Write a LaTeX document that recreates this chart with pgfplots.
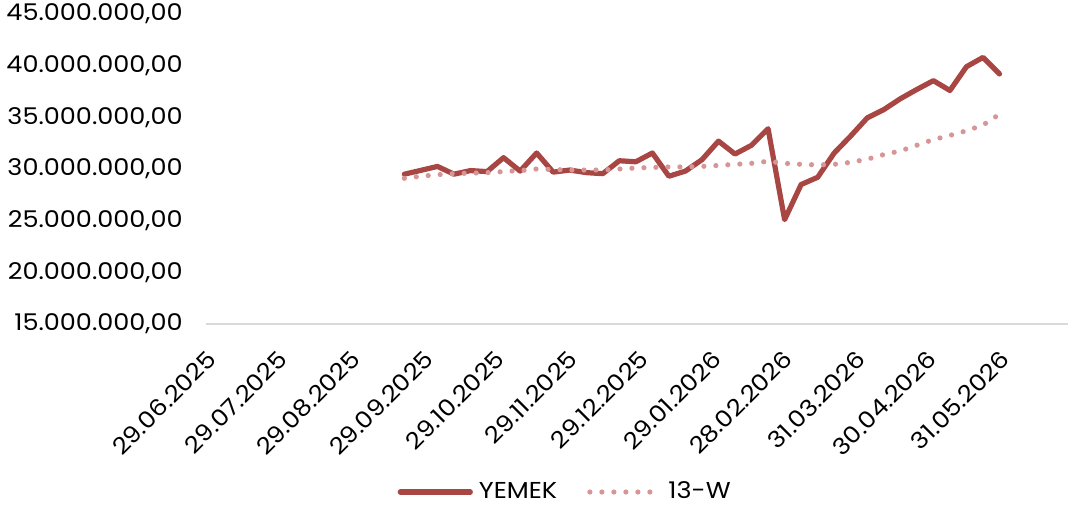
\documentclass[border=0pt]{standalone}
\usepackage{pgfplots}
\pgfplotsset{compat=1.18}
\usepackage{pgfplotstable}
\usepackage{fontspec}
\setmainfont{Poppins}[FakeStretch=1.11]
\definecolor{yemek}{RGB}{168,70,68}
\definecolor{thirteen}{RGB}{214,150,150}
\definecolor{axisgray}{RGB}{217,217,217}

\pgfplotstableread{
day yemek w13
84  29500000 29100000
91  29870000 29300000
98  30250000 29450000
105 29500000 29550000
112 29850000 29600000
119 29750000 29650000
126 31100000 29750000
133 29800000 29850000
140 31550000 30000000
147 29700000 29950000
154 29900000 29900000
161 29650000 29900000
168 29550000 29900000
175 30800000 30000000
182 30700000 30100000
189 31550000 30150000
196 29300000 30200000
203 29800000 30200000
210 30900000 30250000
217 32700000 30350000
224 31450000 30450000
231 32300000 30550000
238 33900000 30750000
245 25100000 30550000
252 28500000 30450000
259 29200000 30400000
266 31550000 30450000
273 33200000 30650000
280 34950000 30950000
287 35750000 31400000
294 36800000 31750000
301 37700000 32300000
308 38550000 32850000
315 37600000 33250000
322 39900000 33700000
329 40800000 34250000
336 39200000 35300000
}\datatable

\begin{document}
\fontsize{11.5}{13}\selectfont
\begin{tikzpicture}
\useasboundingbox (-103pt,-96pt) rectangle (431pt,162pt);
\begin{axis}[
  scale only axis,
  width=431pt, height=155pt,
  xmin=0, xmax=365,
  ymin=15000000, ymax=45000000,
  scaled y ticks=false,
  axis x line*=bottom,
  axis y line*=left,
  y axis line style={draw=none},
  x axis line style={draw=axisgray, line width=1pt, -},
  xtick={0,30,61,92,122,153,183,214,244,275,305,336},
  xticklabels={29.06.2025,29.07.2025,29.08.2025,29.09.2025,29.10.2025,29.11.2025,29.12.2025,29.01.2026,28.02.2026,31.03.2026,30.04.2026,31.05.2026},
  xticklabel style={inner sep=0pt, xshift=3pt, yshift=-15.5pt, rotate=45, anchor=east},
  major tick length=0pt,
  ytick={15000000,20000000,25000000,30000000,35000000,40000000,45000000},
  yticklabels={15.000.000{,}00,20.000.000{,}00,25.000.000{,}00,30.000.000{,}00,35.000.000{,}00,40.000.000{,}00,45.000.000{,}00},
  yticklabel style={inner sep=0pt, anchor=east, xshift=-11.5pt},
  clip=false,
  legend columns=2,
  legend style={draw=none, fill=none, at={(rel axis cs:0.419,-0.542)}, anchor=center,
    /tikz/every even column/.append style={column sep=12pt},
    inner sep=0pt, nodes={inner sep=3pt}},
  legend image code/.code={\draw[#1] (0pt,0pt) -- (35pt,0pt);},
]
\addplot[yemek, line width=2.6pt, line cap=round, line join=round] table[x=day, y=yemek] {\datatable};
\addlegendentry{YEMEK}
\addplot[thirteen, line width=2.6pt, line cap=round, dash pattern=on 0pt off 6pt] table[x=day, y=w13] {\datatable};
\addlegendentry{13-W}
\end{axis}
\end{tikzpicture}
\end{document}
